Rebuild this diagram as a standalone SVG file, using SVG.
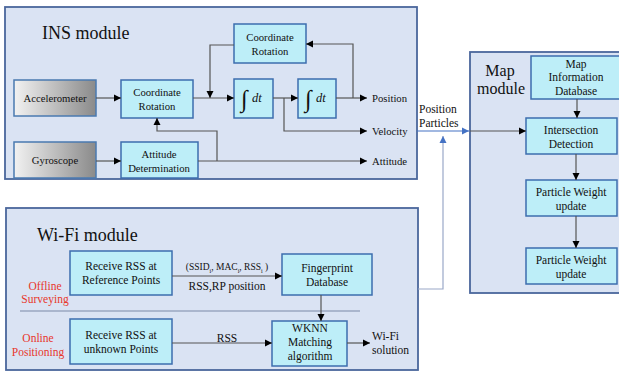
<svg xmlns="http://www.w3.org/2000/svg" width="619" height="372" viewBox="0 0 619 372" font-family="'Liberation Serif', 'DejaVu Serif', serif">
<defs>
<linearGradient id="gray" x1="0" y1="0" x2="1" y2="0">
<stop offset="0" stop-color="#f2f2f2"/>
<stop offset="1" stop-color="#8a8a8a"/>
</linearGradient>
<marker id="ah" markerWidth="8" markerHeight="8" refX="7" refY="4" orient="auto" markerUnits="userSpaceOnUse">
<path d="M0,0.5 L7,4 L0,7.5 Z" fill="#000"/>
</marker>
<marker id="ahb" markerWidth="8" markerHeight="8" refX="7" refY="4" orient="auto" markerUnits="userSpaceOnUse">
<path d="M0,0.5 L7,4 L0,7.5 Z" fill="#4472c4"/>
</marker>
</defs>
<style>
.panel{fill:#dae3f3;stroke:#4a669c;stroke-width:1.8}
.box{fill:#bdeef8;stroke:#3c6eae;stroke-width:1.5}
.gbox{fill:url(#gray);stroke:#4a7ab0;stroke-width:1.5}
text{fill:#111}
.t{font-size:11.5px;text-anchor:middle}
.ti{font-size:10.7px;text-anchor:middle}
.title{font-size:18px}
.lbl{font-size:11.5px}
.lbi{font-size:10.7px}
.red{font-size:11.5px;fill:#e8372c;text-anchor:middle}
.ca{fill:none;stroke:#555;stroke-width:1.2;marker-end:url(#ah)}
</style>
<rect width="619" height="372" fill="#fff"/>

<g id="ins-module">
<rect class="panel" x="5" y="7" width="412" height="172"/>
<text class="title" x="42" y="39">INS module</text>
</g>
<g id="wifi-module">
<rect class="panel" x="6" y="208" width="412" height="162"/>
<text class="title" x="37" y="241">Wi-Fi module</text>
<line x1="20" y1="311" x2="360" y2="311" stroke="#7a8aa8" stroke-width="1.2"/>
<text class="red" x="45" y="290">Offline</text>
<text class="red" x="45" y="303">Surveying</text>
<text class="red" x="38" y="342">Online</text>
<text class="red" x="38" y="356">Positioning</text>
</g>
<g id="map-module">
<rect class="panel" x="470" y="52" width="152" height="241"/>
<text x="500" y="76" text-anchor="middle" style="font-size:16px">Map</text>
<text x="501" y="94" text-anchor="middle" style="font-size:16px">module</text>
</g>

<g id="accelerometer"><rect class="gbox" x="14" y="80" width="82" height="36"/><text class="ti" x="55" y="102">Accelerometer</text></g>
<g id="coord-rot-1"><rect class="box" x="121" y="80" width="72" height="38"/><text class="ti" x="157" y="96">Coordinate</text><text class="ti" x="157" y="110">Rotation</text></g>
<g id="coord-rot-2"><rect class="box" x="234" y="24" width="72" height="39"/><text class="ti" x="270" y="41">Coordinate</text><text class="ti" x="270" y="55">Rotation</text></g>
<g id="int-1"><rect class="box" x="234" y="79" width="39" height="39"/><text x="241" y="107" style="font-size:24px">∫</text><text x="252" y="102" style="font-size:12.5px;font-style:italic">dt</text></g>
<g id="int-2"><rect class="box" x="298" y="79" width="38" height="39"/><text x="305" y="107" style="font-size:24px">∫</text><text x="316" y="102" style="font-size:12.5px;font-style:italic">dt</text></g>
<g id="gyroscope"><rect class="gbox" x="14" y="142" width="82" height="36"/><text class="ti" x="55" y="164">Gyroscope</text></g>
<g id="attitude-det"><rect class="box" x="121" y="142" width="77" height="36"/><text class="ti" x="159" y="158">Attitude</text><text class="ti" x="159" y="172">Determination</text></g>

<g id="rss-ref"><rect class="box" x="70" y="251" width="102" height="44"/><text class="t" x="121" y="270">Receive RSS at</text><text class="t" x="121" y="284">Reference Points</text></g>
<g id="fingerprint-db"><rect class="box" x="282" y="254" width="90" height="41"/><text class="t" x="327" y="272">Fingerprint</text><text class="t" x="327" y="286">Database</text></g>
<g id="rss-unknown"><rect class="box" x="70" y="319" width="102" height="45"/><text class="t" x="121" y="339">Receive RSS at</text><text class="t" x="121" y="353">unknown Points</text></g>
<g id="wknn"><rect class="box" x="272" y="321" width="75" height="45"/><text class="t" x="310" y="332">WKNN</text><text class="t" x="310" y="346">Matching</text><text class="t" x="310" y="360">algorithm</text></g>

<g id="map-info-db"><rect class="box" x="531" y="56" width="90" height="43"/><text class="t" x="576" y="68">Map</text><text class="t" x="576" y="81">Information</text><text class="t" x="576" y="95">Database</text></g>
<g id="intersection"><rect class="box" x="526" y="118" width="91" height="36"/><text class="t" x="571" y="134">Intersection</text><text class="t" x="571" y="148">Detection</text></g>
<g id="pw-update-1"><rect class="box" x="526" y="180" width="91" height="36"/><text class="t" x="571" y="196">Particle Weight</text><text class="t" x="571" y="210">update</text></g>
<g id="pw-update-2"><rect class="box" x="526" y="248" width="91" height="36"/><text class="t" x="571" y="264">Particle Weight</text><text class="t" x="571" y="278">update</text></g>

<g id="connectors">
<line class="ca" x1="96" y1="98" x2="121" y2="98"/>
<line class="ca" x1="193" y1="98" x2="234" y2="98"/>
<polyline class="ca" points="234,45 210,45 210,98"/>
<line class="ca" x1="273" y1="98" x2="298" y2="98"/>
<polyline class="ca" points="284,98 284,131 367,131"/>
<line class="ca" x1="336" y1="98" x2="367" y2="98"/>
<polyline class="ca" points="353,98 353,44 306,44"/>
<line class="ca" x1="96" y1="161" x2="121" y2="161"/>
<line class="ca" x1="198" y1="161" x2="367" y2="161"/>
<polyline class="ca" points="217,161 217,131 157,131 157,118"/>

<line class="ca" x1="172" y1="276" x2="282" y2="276"/>
<line class="ca" x1="321" y1="295" x2="321" y2="321"/>
<line class="ca" x1="172" y1="343" x2="272" y2="343"/>
<line class="ca" x1="347" y1="343" x2="370" y2="343"/>

<line x1="417" y1="131" x2="469" y2="131" stroke="#4472c4" stroke-width="1.2" marker-end="url(#ahb)"/>
<line class="ca" x1="470" y1="131" x2="526" y2="131"/>
<polyline points="418,289 443,289 443,136" fill="none" stroke="#9aa8c8" stroke-width="1.2" marker-end="url(#ahb)"/>
<line class="ca" x1="577" y1="99" x2="577" y2="118"/>
<line class="ca" x1="576" y1="154" x2="576" y2="180"/>
<line class="ca" x1="576" y1="216" x2="576" y2="248"/>
</g>

<g id="labels">
<text class="lbi" x="372" y="102">Position</text>
<text class="lbi" x="372" y="135">Velocity</text>
<text class="lbi" x="372" y="165">Attitude</text>
<text class="lbl" x="419" y="113">Position</text>
<text class="lbl" x="419" y="127">Particles</text>
<text x="227" y="270" text-anchor="middle" style="font-size:9.5px">(SSID<tspan baseline-shift="sub" style="font-size:6px">i</tspan>, MAC<tspan baseline-shift="sub" style="font-size:6px">i</tspan>, RSS<tspan baseline-shift="sub" style="font-size:6px">i</tspan> )</text>
<text class="lbl" x="227" y="290" text-anchor="middle">RSS,RP position</text>
<text class="lbl" x="227" y="342" text-anchor="middle">RSS</text>
<text class="lbl" x="372" y="340">Wi-Fi</text>
<text class="lbl" x="372" y="354">solution</text>
</g>
</svg>
